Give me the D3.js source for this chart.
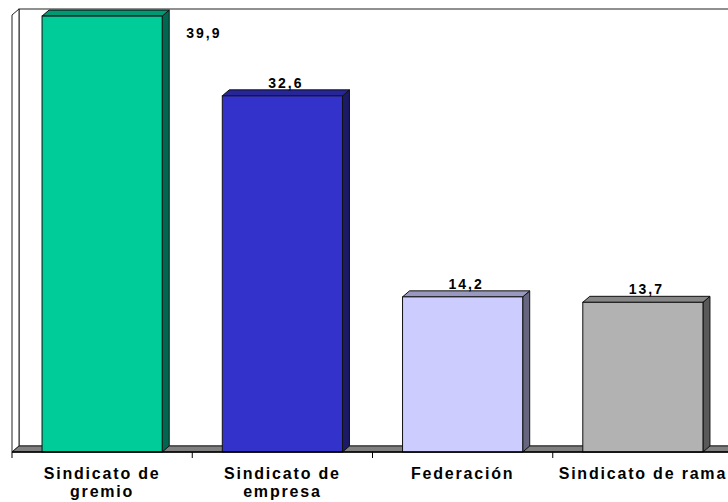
<!DOCTYPE html>
<html>
<head>
<meta charset="utf-8">
<script src="https://cdn.jsdelivr.net/npm/d3@7"></script>
<style>
  body { margin: 0; background: #fff; }
  text { font-family: "Liberation Sans", Arial, sans-serif; font-weight: bold; fill: #000; }
</style>
</head>
<body>
<div id="chart"></div>
<script>
// data
var categories = ["Sindicato de gremio", "Sindicato de empresa", "Federación", "Sindicato de rama"];
var labelLines = [["Sindicato de", "gremio"], ["Sindicato de", "empresa"], ["Federación"], ["Sindicato de rama"]];
var values = [39.9, 32.6, 14.2, 13.7];
var valueLabels = ["39,9", "32,6", "14,2", "13,7"];

var frontColors = ["#00cc99", "#3333cc", "#ccccff", "#b2b2b2"];
var topColors   = ["#009973", "#262699", "#9999bf", "#868686"];
var sideColors  = ["#006650", "#1a1a66", "#66667f", "#595959"];

var chart_width = 728;
var chart_height = 502;
var dx = 7, dy = 6; // depth of the 3d effect

var svg = d3.select('#chart')
            .append('svg')
            .attr('width', chart_width)
            .attr('height', chart_height);

var x = d3.scaleBand()
          .domain(categories)
          .range([12, 733])
          .paddingInner(1/3)
          .paddingOuter(1/6);

var y = d3.scaleLinear()
          .domain([0, 40])
          .range([452, 15]);

var x0 = 12, x1 = 740;
var yTop = y(40), yBase = y(0);

// back wall
svg.append('rect')
   .attr('x', x0 + dx).attr('y', yTop - dy)
   .attr('width', x1 - x0).attr('height', yBase - yTop)
   .attr('fill', '#fff').attr('stroke', '#222').attr('stroke-width', 1);

// left wall
svg.append('path')
   .attr('d', 'M' + x0 + ',' + yBase + 'L' + x0 + ',' + yTop + 'L' + (x0 + dx) + ',' + (yTop - dy) +
              'L' + (x0 + dx) + ',' + (yBase - dy) + 'Z')
   .attr('fill', '#fff').attr('stroke', '#222').attr('stroke-width', 1);

// floor
svg.append('path')
   .attr('d', 'M' + x0 + ',' + yBase + 'L' + (x0 + dx) + ',' + (yBase - dy) + 'L' + (x1 + dx) + ',' + (yBase - dy) +
              'L' + x1 + ',' + yBase + 'Z')
   .attr('fill', '#808080').attr('stroke', '#222').attr('stroke-width', 1);

// bars
var bars = svg.selectAll('g.bar')
              .data(values)
              .enter()
              .append('g')
              .attr('class', 'bar');

bars.append('path') // side
    .attr('d', function(d, i){
        var r = x(categories[i]) + x.bandwidth();
        return 'M' + r + ',' + yBase + 'L' + r + ',' + y(d) + 'L' + (r + dx) + ',' + (y(d) - dy) +
               'L' + (r + dx) + ',' + (yBase - dy) + 'Z';
    })
    .attr('fill', function(d, i){ return sideColors[i]; })
    .attr('stroke', '#111').attr('stroke-width', 1);

bars.append('path') // top
    .attr('d', function(d, i){
        var l = x(categories[i]), r = l + x.bandwidth();
        return 'M' + l + ',' + y(d) + 'L' + (l + dx) + ',' + (y(d) - dy) + 'L' + (r + dx) + ',' + (y(d) - dy) +
               'L' + r + ',' + y(d) + 'Z';
    })
    .attr('fill', function(d, i){ return topColors[i]; })
    .attr('stroke', '#111').attr('stroke-width', 1);

bars.append('rect') // front
    .attr('x', function(d, i){ return x(categories[i]); })
    .attr('y', function(d){ return y(d); })
    .attr('width', x.bandwidth())
    .attr('height', function(d){ return yBase - y(d); })
    .attr('fill', function(d, i){ return frontColors[i]; })
    .attr('stroke', '#111').attr('stroke-width', 1);

// value labels
bars.append('text')
    .attr('x', function(d, i){
        // first bar reaches the top, so its label goes to the right
        if (i === 0) return x(categories[i]) + x.bandwidth() + 24;
        return x(categories[i]) + x.bandwidth() / 2 + dx / 2;
    })
    .attr('y', function(d, i){
        if (i === 0) return 38;
        return y(d) - dy - 2;
    })
    .attr('text-anchor', function(d, i){ return i === 0 ? 'start' : 'middle'; })
    .style('font-size', '14px')
    .style('letter-spacing', '2px')
    .text(function(d, i){ return valueLabels[i]; });

// axis line and ticks
svg.append('line')
   .attr('x1', x0).attr('x2', chart_width)
   .attr('y1', yBase).attr('y2', yBase)
   .attr('stroke', '#000').attr('stroke-width', 1.5);

var tickPos = categories.map(function(c){ return x(c) - x.step() * x.paddingInner() / 2; });
tickPos.push(x(categories[3]) + x.bandwidth() + x.step() * x.paddingInner() / 2);
svg.selectAll('line.tick')
   .data(tickPos)
   .enter()
   .append('line')
   .attr('class', 'tick')
   .attr('x1', function(d){ return d; }).attr('x2', function(d){ return d; })
   .attr('y1', yBase).attr('y2', yBase + 6)
   .attr('stroke', '#000').attr('stroke-width', 1);

// category labels
var cat = svg.selectAll('text.cat')
             .data(categories)
             .enter()
             .append('text')
             .attr('class', 'cat')
             .attr('text-anchor', 'middle')
             .style('font-size', '16px')
             .style('letter-spacing', '1.8px');

cat.selectAll('tspan')
   .data(function(d, i){ return labelLines[i].map(function(t){ return {t: t, c: d}; }); })
   .enter()
   .append('tspan')
   .attr('x', function(d){ return x(d.c) + x.bandwidth() / 2; })
   .attr('y', function(d, j){ return 479 + j * 18; })
   .text(function(d){ return d.t; });
</script>
</body>
</html>
